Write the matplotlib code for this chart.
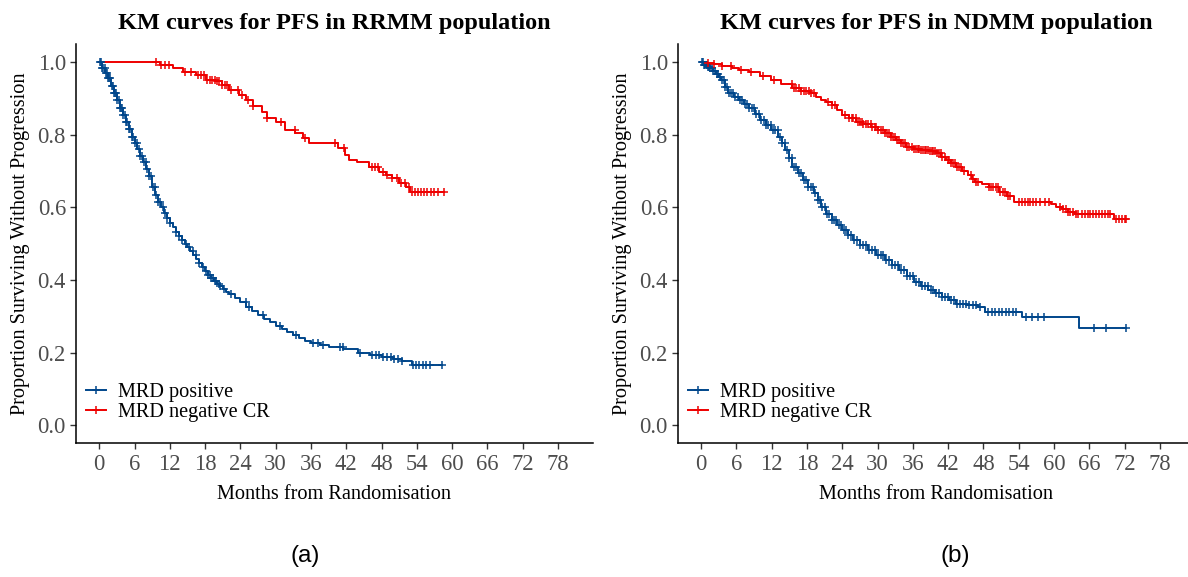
import numpy as np
import matplotlib
matplotlib.use("Agg")
import matplotlib.pyplot as plt
from matplotlib.lines import Line2D

plt.rcParams['font.family'] = ['Liberation Serif', 'DejaVu Serif']

BLUE = "#00468B"
RED = "#EE0000"

# ---------------- RRMM population ----------------
rrmm_pos_t = [0, 0.5, 1, 1.5, 2, 2.5, 3, 3.5, 4, 4.5, 5, 5.5, 6, 6.5, 7, 7.5, 8, 8.5,
              9, 9.5, 10, 10.5, 11, 11.5, 12, 12.5, 13, 13.5, 14, 14.5, 15, 15.5, 16,
              16.5, 17, 17.5, 18, 18.5, 19, 19.5, 20, 20.5, 21, 21.5, 22, 23, 24, 25,
              26, 27, 28, 29, 30, 31, 32, 33, 34, 35, 36, 37.5, 39, 41.5, 44, 46, 48,
              50, 51.5, 53.2]
rrmm_pos_s = [1.0, 0.985, 0.97, 0.955, 0.935, 0.915, 0.895, 0.875, 0.855, 0.835, 0.815,
              0.795, 0.778, 0.76, 0.742, 0.724, 0.705, 0.686, 0.655, 0.635, 0.615, 0.60,
              0.585, 0.572, 0.558, 0.545, 0.532, 0.52, 0.51, 0.50, 0.49, 0.48, 0.47,
              0.458, 0.447, 0.436, 0.426, 0.415, 0.405, 0.397, 0.39, 0.382, 0.374, 0.366,
              0.36, 0.35, 0.338, 0.326, 0.315, 0.303, 0.292, 0.283, 0.274, 0.264, 0.257,
              0.248, 0.24, 0.232, 0.225, 0.22, 0.216, 0.211, 0.198, 0.193, 0.188, 0.182,
              0.176, 0.167]
rrmm_pos_cens = [0.1, 0.3, 0.5, 0.7, 0.9, 1.1, 1.3, 1.5, 1.7, 1.9, 2.1, 2.3, 2.5, 2.7,
                 2.9, 3.1, 3.3, 3.5, 3.7, 3.9, 4.1, 4.3, 4.5, 4.8, 5.0, 5.3, 5.5, 5.8,
                 6.1, 6.4, 6.7, 7.0, 7.3, 7.6, 7.9, 8.2, 8.5, 8.8, 9.1, 9.4, 9.7, 10.0,
                 10.4, 10.8, 11.2, 11.5, 12.1, 13.0, 13.5, 14.0, 14.7, 15.3, 15.9, 16.4,
                 17.0, 17.6, 18.2, 18.5, 18.8, 19.0, 19.3, 19.6, 19.9, 20.3, 20.6, 21.2,
                 22.4, 24.9, 25.4, 27.8, 30.7, 33.5, 36.4, 37.2, 38.1, 40.9, 41.4, 44.3,
                 46.3, 47.0, 47.6, 48.3, 48.9, 49.6, 50.2, 50.8, 51.5, 53.4, 53.9, 54.4,
                 55.0, 55.6, 56.2, 58.3]

rrmm_neg_t = [0, 10.3, 12.6, 14.3, 16.5, 18.2, 19.7, 20.8, 22.0, 23.7, 25.0, 26.2, 27.6,
              28.5, 30.1, 31.6, 33.3, 34.7, 35.7, 40.6, 41.8, 42.5, 43.8, 45.8, 47.5,
              48.7, 49.8, 50.9, 52.1, 52.8]
rrmm_neg_s = [1.0, 0.992, 0.983, 0.974, 0.965, 0.951, 0.947, 0.937, 0.923, 0.910, 0.896,
              0.878, 0.864, 0.846, 0.836, 0.813, 0.805, 0.791, 0.778, 0.763, 0.744, 0.731,
              0.726, 0.712, 0.698, 0.689, 0.681, 0.667, 0.657, 0.643]
rrmm_neg_cens = [9.7, 10.5, 11.1, 11.8, 14.5, 15.6, 16.8, 17.3, 17.8, 18.4, 18.8, 19.2,
                 19.6, 20.0, 20.4, 20.8, 21.3, 21.8, 22.4, 23.6, 24.2, 25.3, 26.2, 28.6,
                 30.9, 33.2, 34.9, 40.0, 41.7, 46.3, 46.9, 47.4, 48.2, 48.9, 49.8, 50.6,
                 51.3, 52.0, 52.6, 53.2, 53.7, 54.2, 54.7, 55.2, 55.8, 56.4, 57.0, 57.6,
                 58.6]

# ---------------- NDMM population ----------------
ndmm_pos_t = [0, 0.5, 1.0, 1.5, 2.0, 2.5, 3.0, 3.4, 4.0, 4.6, 5.5, 6.4, 7.3, 8.2, 9.1,
              10.0, 11.0, 11.9, 13.1, 13.7, 14.3, 14.9, 15.5, 16.4, 17.3, 18.2, 19.1,
              19.8, 20.4, 21.3, 22.2, 23.1, 24.0, 24.9, 25.8, 27.0, 28.3, 29.8, 31.3,
              32.5, 33.7, 35.0, 36.2, 37.4, 38.6, 39.8, 41.0, 42.2, 43.4, 45.2, 47.1,
              48.3, 54.5, 64.2]
ndmm_pos_s = [1.0, 0.993, 0.988, 0.983, 0.975, 0.967, 0.958, 0.951, 0.932, 0.914, 0.905,
              0.896, 0.885, 0.873, 0.857, 0.841, 0.827, 0.813, 0.795, 0.778, 0.758, 0.735,
              0.712, 0.694, 0.675, 0.657, 0.639, 0.62, 0.602, 0.583, 0.565, 0.551, 0.538,
              0.524, 0.510, 0.496, 0.482, 0.468, 0.455, 0.441, 0.427, 0.411, 0.395, 0.383,
              0.372, 0.363, 0.354, 0.344, 0.335, 0.330, 0.326, 0.312, 0.297, 0.269]
ndmm_pos_cens = [0.1, 0.3, 0.5, 0.7, 0.9, 1.1, 1.3, 1.5, 1.8, 2.0, 2.3, 2.6, 2.9, 3.2,
                 3.5, 3.8, 4.1, 4.4, 4.8, 5.1, 5.4, 5.8, 6.2, 6.6, 7.0, 7.4, 7.8, 8.2,
                 8.6, 9.0, 9.4, 9.8, 10.2, 10.6, 11.0, 11.4, 11.8, 12.2, 12.6, 13.0,
                 13.4, 13.8, 14.2, 14.6, 15.0, 15.4, 15.8, 16.2, 16.6, 17.0, 17.4, 17.8,
                 18.2, 18.6, 19.0, 19.4, 19.8, 20.2, 20.6, 21.0, 21.4, 21.8, 22.2, 22.6,
                 23.0, 23.4, 23.8, 24.2, 24.6, 25.0, 25.5, 26.0, 26.5, 27.0, 27.5, 28.0,
                 28.5, 29.0, 29.5, 30.0, 30.5, 31.0, 31.5, 32.0, 32.5, 33.0, 33.5, 34.0,
                 34.5, 35.0, 35.5, 36.0, 36.5, 37.0, 37.5, 38.0, 38.5, 39.0, 39.5, 40.0,
                 40.5, 41.0, 41.5, 42.0, 42.5, 43.0, 43.5, 44.0, 44.5, 45.0, 45.6, 46.2,
                 46.8, 47.4, 48.8, 49.4, 50.0, 50.6, 51.2, 51.8, 52.4, 53.0, 53.6, 55.3,
                 56.2, 57.2, 58.3, 66.8, 68.9, 72.3]

ndmm_neg_t = [0, 1.0, 2.1, 3.5, 5.2, 6.5, 8.2, 10.0, 11.9, 13.5, 15.5, 17.0, 18.5, 19.5,
              20.4, 21.3, 22.2, 23.1, 24.0, 25.2, 26.4, 27.6, 28.9, 30.1, 31.3, 32.2,
              33.1, 34.0, 34.9, 36.2, 37.4, 38.7, 40.1, 40.8, 41.6, 42.5, 43.4, 44.3,
              45.3, 46.0, 46.5, 47.7, 48.9, 50.7, 52.0, 53.2, 59.5, 60.4, 61.3, 62.3,
              63.6, 70.2]
ndmm_neg_s = [1.0, 0.998, 0.995, 0.99, 0.983, 0.978, 0.972, 0.962, 0.951, 0.94, 0.928,
              0.921, 0.914, 0.905, 0.896, 0.889, 0.882, 0.868, 0.855, 0.845, 0.836, 0.829,
              0.822, 0.813, 0.804, 0.795, 0.786, 0.776, 0.767, 0.762, 0.758, 0.754, 0.749,
              0.740, 0.731, 0.722, 0.712, 0.70, 0.689, 0.678, 0.671, 0.664, 0.657, 0.643,
              0.63, 0.616, 0.609, 0.602, 0.595, 0.588, 0.583, 0.567]
ndmm_neg_cens = [1.2, 2.1, 3.6, 5.0, 6.8, 8.5, 10.5, 12.4, 15.4, 15.8, 16.2, 16.6, 17.0,
                 17.4, 17.8, 18.3, 18.7, 19.1, 21.6, 22.2, 22.8, 24.4, 25.2, 25.6, 25.9,
                 26.3, 26.6, 27.0, 27.3, 27.6, 28.0, 28.4, 28.8, 29.1, 29.5, 29.8, 30.1,
                 30.6, 31.0, 31.3, 31.6, 31.9, 32.3, 32.6, 33.0, 33.3, 33.6, 34.0, 34.3,
                 34.7, 35.0, 35.4, 35.8, 36.2, 36.5, 36.8, 37.1, 37.4, 37.7, 38.0, 38.3,
                 38.6, 38.9, 39.2, 39.5, 39.8, 40.1, 40.4, 40.7, 41.0, 41.4, 41.9, 42.2,
                 42.5, 42.8, 43.1, 43.5, 43.8, 44.2, 44.7, 45.9, 46.3, 46.7, 47.1, 48.9,
                 49.3, 49.7, 50.1, 50.5, 50.9, 51.3, 51.7, 52.1, 52.6, 54.1, 54.6, 55.1,
                 55.5, 56.0, 56.5, 57.0, 57.6, 58.4, 59.2, 61.0, 61.5, 62.0, 62.4, 62.8,
                 63.2, 63.7, 64.1, 64.7, 65.2, 65.7, 66.2, 66.7, 67.2, 67.7, 68.2, 68.7,
                 69.2, 69.6, 70.5, 71.0, 71.5, 72.0, 72.3]

x_ticks = list(range(0, 79, 6))
y_ticks = [0.0, 0.2, 0.4, 0.6, 0.8, 1.0]
groups = ["MRD positive", "MRD negative CR"]


def draw_km(ax, t, s, cens, color):
    t = np.asarray(t, float)
    s = np.asarray(s, float)
    cens = np.asarray(cens, float)
    t_end = max(t[-1], cens.max())
    tt = np.append(t, t_end)
    ss = np.append(s, s[-1])
    ax.step(tt, ss, where='post', color=color, lw=1.4, zorder=3)
    idx = np.searchsorted(t, cens, side='right') - 1
    ax.plot(cens, s[idx], ls='none', marker='+', ms=6.2, mew=1.1, color=color, zorder=4)


fig = plt.figure(figsize=(11.88, 5.77), dpi=100)
W, H = 1188.0, 577.0
axes_px = [(75.7, 44.0, 517.6, 399.3), (677.7, 44.0, 517.4, 399.3)]
titles = ["KM curves for PFS in RRMM population", "KM curves for PFS in NDMM population"]
panels = [
    [(rrmm_pos_t, rrmm_pos_s, rrmm_pos_cens), (rrmm_neg_t, rrmm_neg_s, rrmm_neg_cens)],
    [(ndmm_pos_t, ndmm_pos_s, ndmm_pos_cens), (ndmm_neg_t, ndmm_neg_s, ndmm_neg_cens)],
]
tags = ["(a)", "(b)"]
tag_x = [305, 955]

for k in range(2):
    x0, y0, w, h = axes_px[k]
    ax = fig.add_axes([x0 / W, 1 - (y0 + h) / H, w / W, h / H])
    (pt, ps, pc), (nt, ns, nc) = panels[k]
    draw_km(ax, pt, ps, pc, BLUE)
    draw_km(ax, nt, ns, nc, RED)

    ax.set_xlim(-4, 84)
    ax.set_ylim(-0.05, 1.05)
    ax.set_xticks(x_ticks)
    ax.set_yticks(y_ticks)
    ax.set_yticklabels([f"{v:.1f}" for v in y_ticks])
    for side in ("top", "right"):
        ax.spines[side].set_visible(False)
    for side in ("left", "bottom"):
        ax.spines[side].set_linewidth(1.1)
        ax.spines[side].set_color("black")
    ax.tick_params(axis='both', direction='out', length=4.5, width=1.0, color="#333333",
                   labelsize=16.3, labelcolor="#4D4D4D", pad=2.5)
    ax.tick_params(axis='x', pad=3.5)
    ax.set_title(titles[k], fontsize=17.5, fontweight='bold', pad=11)
    ax.set_xlabel("Months from Randomisation", fontsize=14.6, labelpad=7)
    ax.set_ylabel("Proportion Surviving Without Progression", fontsize=14.6, labelpad=5.5)

    handles = [Line2D([], [], color=BLUE, marker='+', ms=6.2, mew=1.1, lw=1.4),
               Line2D([], [], color=RED, marker='+', ms=6.2, mew=1.1, lw=1.4)]
    ax.legend(handles, groups, loc='lower left', bbox_to_anchor=(0.02, 0.053),
              frameon=False, fontsize=14.6, handlelength=1.0, handletextpad=0.6,
              labelspacing=0.05, borderpad=0.0, borderaxespad=0.0)

    fig.text(tag_x[k] / W, 1 - 556 / H, tags[k], fontsize=17.5, family='Liberation Sans',
             ha='center', va='center')

fig.savefig("out.png", dpi=100)
